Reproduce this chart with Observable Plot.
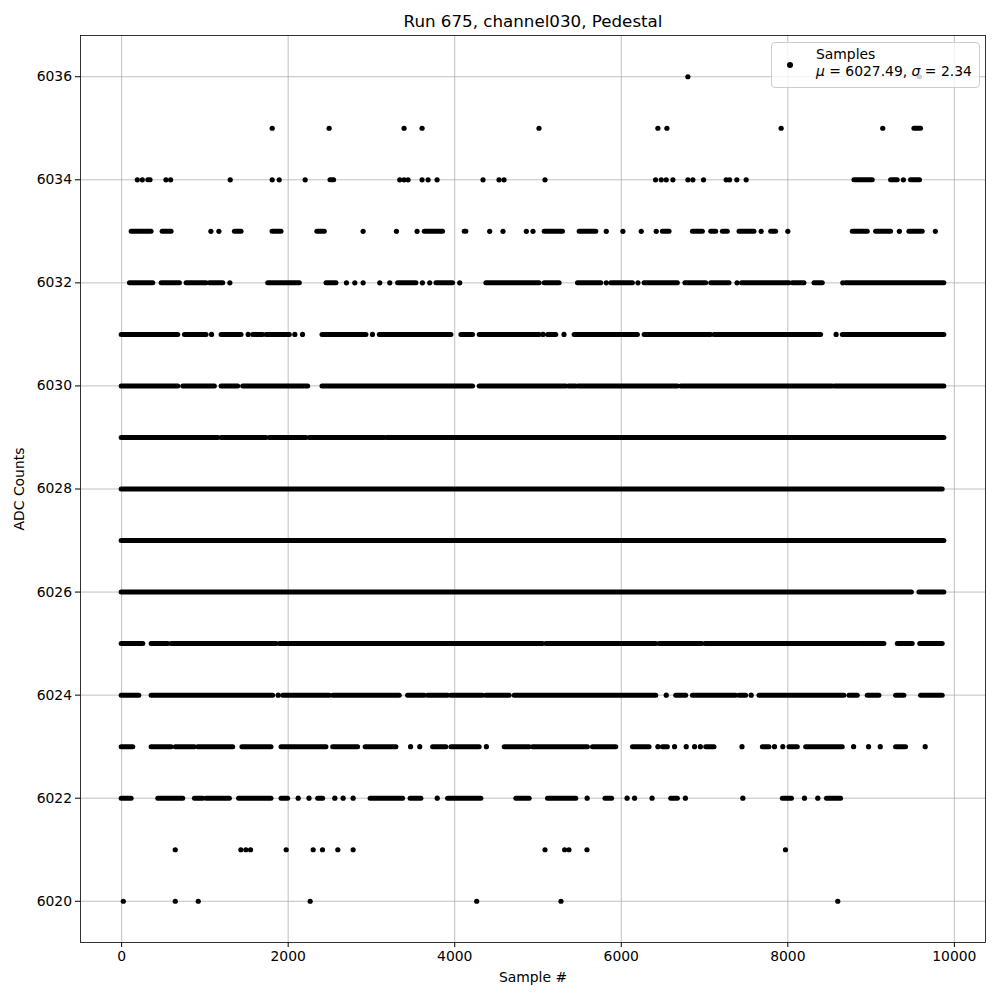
<!DOCTYPE html>
<html><head><meta charset="utf-8">
<script src="https://cdn.jsdelivr.net/npm/d3@7"></script>
<script src="https://cdn.jsdelivr.net/npm/@observablehq/plot@0.6"></script>
<style>
body{margin:0;background:#fff;font-family:"DejaVu Sans",sans-serif;}
#wrap{position:relative;width:1000px;height:1000px;}
#legend{position:absolute;left:771px;top:42px;width:209px;height:46px;background:rgba(255,255,255,0.8);border:1px solid #cccccc;border-radius:4px;box-sizing:border-box;font-size:13.9px;color:#000;}
#legend .mk{position:absolute;left:15px;top:19px;width:6px;height:6px;border-radius:50%;background:#000;}
#legend .t1{position:absolute;left:44px;top:3px;white-space:nowrap;}
#legend .t2{position:absolute;left:44px;top:20px;white-space:nowrap;}
#legend i{font-style:italic;}
</style></head><body>
<div id="wrap"><div id="legend"><div class="mk"></div><div class="t1">Samples</div><div class="t2"><i>μ</i> = 6027.49, <i>σ</i> = 2.34</div></div></div>
<script>
const title = "Run 675, channel030, Pedestal";
const xTicks = [0, 2000, 4000, 6000, 8000, 10000];
const yTicks = [6020, 6022, 6024, 6026, 6028, 6030, 6032, 6034, 6036];

// Sample numbers (single) or [first, last] runs of consecutive samples read per ADC level
const runs6036 = [6800, 9580];
const runs6035 = [1808, 2492, 3392, 3608, 5012, 6440, 6548, 7920, 9140, [9520, 9600]];
const runs6034 = [188, 248, [320, 348], 532, 588, 1304, 1808, 1892, 2204, [2508, 2552], 3340, 3392, 3440, 3608, 3680, 3788, 4340, 4532, 4592, 5084, 6412, 6480, 6540, 6620, 6800, 6860, 6988, 7260, 7300, 7388, 7500, [8800, 9020], [9240, 9320], 9388, [9480, 9588]];
const runs6033 = [[120, 360], [492, 600], 1072, 1168, [1360, 1440], [1812, 1920], [2350, 2440], 2900, 3300, 3548, [3640, 3860], [4120, 4140], 4420, 4580, 4860, 4940, [5080, 5300], [5500, 5700], 5820, 6020, 6240, 6420, [6500, 6580], [6860, 6980], [7080, 7140], [7220, 7280], [7420, 7600], 7680, [7800, 7860], 8000, [8780, 8960], [9060, 9240], 9340, [9460, 9620], 9772];
const runs6032 = [[100, 380], [480, 700], [780, 1020], [1060, 1220], 1300, [1760, 2140], [2460, 2580], 2700, 2800, 2900, 3100, 3220, [3320, 3540], 3612, 3700, [3780, 3980], 4060, [4380, 5020], [5080, 5260], [5480, 5760], 5820, [5880, 6140], 6200, [6280, 6680], [6770, 7020], [7080, 7300], 7390, [7450, 8020], [8060, 8200], [8320, 8420], 8660, [8700, 9880]];
const runs6031 = [[0, 680], [760, 1020], 1080, [1200, 1440], 1520, [1580, 1700], [1740, 2020], 2080, 2172, [2412, 2940], 3012, [3100, 3960], [4080, 4220], [4300, 5020], 5060, [5120, 5220], 5312, [5440, 6200], [6280, 7080], [7120, 8400], 8580, [8660, 9880]];
const runs6030 = [[0, 680], [740, 1120], [1200, 1400], [1460, 2240], [2412, 4220], [4300, 5340], [5372, 5460], [5490, 6680], [6720, 8540], [8570, 9880]];
const runs6029 = [[0, 720], [740, 1160], [1200, 1740], [1780, 2220], [2260, 3160], [3190, 9880]];
const runs6028 = [[0, 9860]];
const runs6027 = [[0, 9880]];
const runs6026 = [[0, 9160], [9180, 9490], [9580, 9880]];
const runs6025 = [[0, 260], [360, 560], [600, 1860], [1900, 3820], [3840, 4500], [4520, 5060], [5100, 6420], [6460, 6970], [7010, 7840], [7860, 8840], [8860, 9160], [9320, 9500], [9590, 9860]];
const runs6024 = [[0, 212], [360, 1820], 1880, [1940, 2500], [2540, 3340], [3440, 3640], [3680, 3920], [3960, 4340], [4380, 4660], [4720, 6420], 6540, [6660, 6780], [6860, 7380], [7420, 7500], 7560, [7660, 8680], [8740, 8840], [8960, 9100], [9300, 9400], [9600, 9860]];
const runs6023 = [[0, 140], [360, 600], [650, 880], [920, 1340], [1450, 1800], [1920, 2460], [2540, 2840], [2930, 3300], 3470, 3580, [3740, 3900], [3960, 4300], 4380, [4600, 4900], [4940, 5600], [5660, 5940], [6140, 6340], 6440, [6500, 6560], 6640, 6780, 6880, 6950, [7020, 7120], 7450, [7700, 7780], 7840, 7940, [8020, 8120], [8220, 8660], 8790, 8970, 9110, [9300, 9420], 9650];
const runs6022 = [[0, 120], [440, 740], [880, 980], [1020, 1300], [1410, 1800], [1920, 2000], 2120, 2250, [2360, 2420], 2560, 2660, 2780, [2990, 3380], [3470, 3600], 3790, [3920, 4320], [4740, 4900], [5120, 5460], 5590, [5810, 5890], 6070, 6160, 6370, [6600, 6680], 6770, 7460, [7940, 8050], 8200, 8360, [8470, 8640]];
const runs6021 = [644, 1432, 1492, 1548, 1976, 2300, 2412, 2596, 2780, 5084, 5320, 5372, 5588, 7972];
const runs6020 = [20, 644, 920, 2264, 4264, 5276, 8600];

const rows = [];
function addLevel(level, entries) {
  for (const e of entries) {
    const [a, b] = Array.isArray(e) ? e : [e, e];
    rows.push({level, start: a, end: b});
  }
}
addLevel(6036, runs6036); addLevel(6035, runs6035); addLevel(6034, runs6034);
addLevel(6033, runs6033); addLevel(6032, runs6032); addLevel(6031, runs6031);
addLevel(6030, runs6030); addLevel(6029, runs6029); addLevel(6028, runs6028);
addLevel(6027, runs6027); addLevel(6026, runs6026); addLevel(6025, runs6025);
addLevel(6024, runs6024); addLevel(6023, runs6023); addLevel(6022, runs6022);
addLevel(6021, runs6021); addLevel(6020, runs6020);
const spans = rows.filter(d => d.end > d.start);
const singles = rows.filter(d => d.end === d.start);

const chart = Plot.plot({
  width: 1000, height: 1000,
  marginLeft: 80, marginRight: 15, marginTop: 35, marginBottom: 58,
  style: {fontFamily: "DejaVu Sans", fontSize: "13.9px", color: "black", background: "white"},
  x: {domain: [-494, 10374]},
  y: {domain: [6019.2, 6036.8]},
  marks: [
    Plot.gridX(xTicks, {stroke: "#b0b0b0", strokeOpacity: 1, strokeWidth: 0.8}),
    Plot.gridY(yTicks, {stroke: "#b0b0b0", strokeOpacity: 1, strokeWidth: 0.8}),
    Plot.ruleY(spans, {x1: "start", x2: "end", y: "level", stroke: "black", strokeWidth: 5, strokeLinecap: "round"}),
    Plot.dot(singles, {x: "start", y: "level", r: 2.6, fill: "black", stroke: "none"}),
    Plot.frame({stroke: "black", strokeWidth: 0.8}),
    Plot.axisX(xTicks, {tickSize: 5, tickPadding: 3.5, tickFormat: d => String(d), label: "Sample #", labelArrow: "none", labelAnchor: "center", labelOffset: 39}),
    Plot.axisY(yTicks, {tickSize: 5, tickPadding: 3.5, tickFormat: d => String(d), label: "ADC Counts", labelArrow: "none", labelAnchor: "center", labelOffset: 66}),
    Plot.text([title], {frameAnchor: "top", dy: -20, fontSize: 16.7, fill: "black"})
  ]
});
document.getElementById("wrap").prepend(chart);
</script>
</body></html>
